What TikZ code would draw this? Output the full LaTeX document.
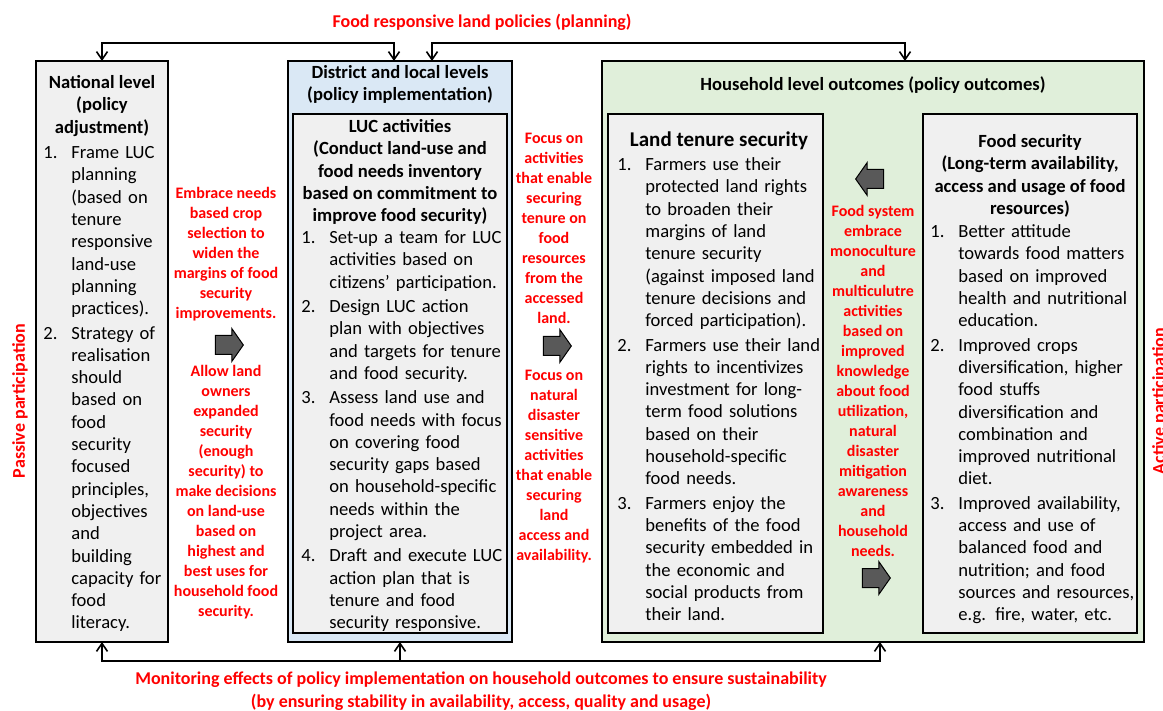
\documentclass[tikz,border=0pt]{standalone}
\usepackage{fontspec}
\setmainfont{Carlito}
\usetikzlibrary{positioning, arrows.meta, shapes.arrows, calc}

\definecolor{boxgray}{HTML}{F0F0F0}
\definecolor{distblue}{HTML}{DAE8F5}
\definecolor{housegreen}{HTML}{E0EFDA}
\definecolor{arrowgray}{HTML}{595959}
\definecolor{notered}{HTML}{FF0000}

\newlength{\numw}
\setlength{\numw}{14pt}
\newcommand{\numitem}[2]{\par\noindent\hangindent=\numw\hangafter=1\makebox[\numw][l]{#1}{\let\\\newline #2}\par}

\tikzset{
	box/.style={rectangle, draw, line width=1pt, inner sep=0pt, outer sep=0pt},
	body/.style={anchor=north west, inner sep=0pt, text width=130pt, align=left,
		font=\fontsize{9.3}{11.15}\selectfont\setlength{\parskip}{1pt}},
	head/.style={inner sep=0pt, align=center, font=\bfseries\fontsize{9.3}{11.2}\selectfont},
	note/.style={inner sep=0pt, align=center, text=notered, font=\bfseries\fontsize{8}{10}\selectfont},
	bignote/.style={note, font=\bfseries\fontsize{9}{11.5}\selectfont},
	blockarrow/.style={single arrow, draw, fill=arrowgray, line width=0.5pt, inner xsep=0pt, inner ysep=4.5pt,
		minimum height=14pt, single arrow head extend=3.5pt, single arrow tip angle=110},
	barb/.tip={Straight Barb[length=4pt, width=5.5pt]},
	link/.style={draw, line width=0.8pt, barb-barb}
}

\begin{document}
\begin{tikzpicture}[x=0.5pt, y=-0.5pt]
		\useasboundingbox (0,0) rectangle (1163,711);
		
		%Level boxes
		\node [box, fill=boxgray, minimum width=66pt, minimum height=290.5pt] (national) at (102,351.5) {};
		\node [box, fill=distblue, minimum width=112pt, minimum height=290.5pt] (district) at (400,351.5) {};
		\node [box, fill=boxgray, minimum width=107pt, minimum height=259.5pt] (luc) at (400,373.5) {};
		\node [box, fill=housegreen, minimum width=271pt, minimum height=290.5pt] (household) at (873,351.5) {};
		\node [box, fill=boxgray, minimum width=107.5pt, minimum height=259.5pt] (tenure) at (715.5,373.5) {};
		\node [box, fill=boxgray, minimum width=107pt, minimum height=259.5pt] (foodsec) at (1030,373.5) {};
		
		%Headings
		\node [head] (nationalhead) at (102,106) {National level\\(policy\\adjustment)};
		\node [head] (districthead) at (400,84.5) {District and local levels\\(policy implementation)};
		\node [head] (luchead) at (400,172) {LUC activities\\(Conduct land-use and\\food needs inventory\\based on commitment to\\improve food security)};
		\node [head] (househead) at (873,85) {Household level outcomes (policy outcomes)};
		\node [head, font=\bfseries\fontsize{10.5}{12.5}\selectfont] (tenurehead) at (719,141) {Land tenure security};
		\node [head] (foodsechead) at (1030,176) {Food security\\(Long-term availability,\\access and usage of food\\resources)};
		
		%Lists
		\node [body] (nationallist) at (43,134) {
			\numitem{1.}{Frame LUC\\planning\\(based on\\tenure\\responsive\\land-use\\planning\\practices).}
			\numitem{2.}{Strategy of\\realisation\\should\\based on\\food\\security\\focused\\principles,\\objectives\\and\\building\\capacity for\\food\\literacy.}};
		
		\node [body] (luclist) at (301,219) {
			\numitem{1.}{Set-up a team for LUC\\activities based on\\citizens' participation.}
			\numitem{2.}{Design LUC action\\plan with objectives\\and targets for tenure\\and food security.}
			\numitem{3.}{Assess land use and\\food needs with focus\\on covering food\\security gaps based\\on household-specific\\needs within the\\project area.}
			\numitem{4.}{Draft and execute LUC\\action plan that is\\tenure and food\\security responsive.}};
		
		\node [body] (tenurelist) at (617,146) {
			\numitem{1.}{Farmers use their\\protected land rights\\to broaden their\\margins of land\\tenure security\\(against imposed land\\tenure decisions and\\forced participation).}
			\numitem{2.}{Farmers use their land\\rights to incentivizes\\investment for long-\\term food solutions\\based on their\\household-specific\\food needs.}
			\numitem{3.}{Farmers enjoy the\\benefits of the food\\security embedded in\\the economic and\\social products from\\their land.}};
		
		\node [body] (foodseclist) at (930,213) {
			\numitem{1.}{Better attitude\\towards food matters\\based on improved\\health and nutritional\\education.}
			\numitem{2.}{Improved crops\\diversification, higher\\food stuffs\\diversification and\\combination and\\improved nutritional\\diet.}
			\numitem{3.}{Improved availability,\\access and use of\\balanced food and\\nutrition; and food\\sources and resources,\\e.g. fire, water, etc.}};
		
		%Notes between boxes
		\node [note] (cropnote) at (226,254.5) {Embrace needs\\based crop\\selection to\\widen the\\margins of food\\security\\improvements.};
		\node [blockarrow] (arrowA) at (226,345) {};
		\node [note] (ownernote) at (226,492) {Allow land\\owners\\expanded\\security\\(enough\\security) to\\make decisions\\on land-use\\based on\\highest and\\best uses for\\household food\\security.};
		
		\node [note] (focusnote) at (554,228.5) {Focus on\\activities\\that enable\\securing\\tenure on\\food\\resources\\from the\\accessed\\land.};
		\node [blockarrow] (arrowB) at (554,346) {};
		\node [note] (disasternote) at (554,467) {Focus on\\natural\\disaster\\sensitive\\activities\\that enable\\securing\\land\\access and\\availability.};
		
		\node [blockarrow, shape border rotate=180] (arrowC) at (873,179) {};
		\node [note] (systemnote) at (873,380.5) {Food system\\embrace\\monoculture\\and\\multiculutre\\activities\\based on\\improved\\knowledge\\about food\\utilization,\\natural\\disaster\\mitigation\\awareness\\and\\household\\needs.};
		\node [blockarrow] (arrowD) at (873,578) {};
		
		%Outer labels
		\node [bignote] (planning) at (482,22) {Food responsive land policies (planning)};
		\node [bignote] (monitoring) at (481,691.5) {Monitoring effects of policy implementation on household outcomes to ensure sustainability\\(by ensuring stability in availability, access, quality and usage)};
		\node [bignote, rotate=90] (passive) at (20,401) {Passive participation};
		\node [bignote, rotate=90] (active) at (1160,401) {Active participation};
		
		%Links
		\path [link] (national.north) -- ++(0,-18) -| ([xshift=-3pt]district.north);
		\path [link] ([xshift=16pt]district.north) -- ++(0,-18) -| ([xshift=16pt]household.north);
		\path [link] (national.south) -- ++(0,19) -| ([xshift=3.5pt]household.south);
		\path [draw, line width=0.8pt, -barb] (district.south) ++(0,19) -- (district.south);
		
\end{tikzpicture}
\end{document}
